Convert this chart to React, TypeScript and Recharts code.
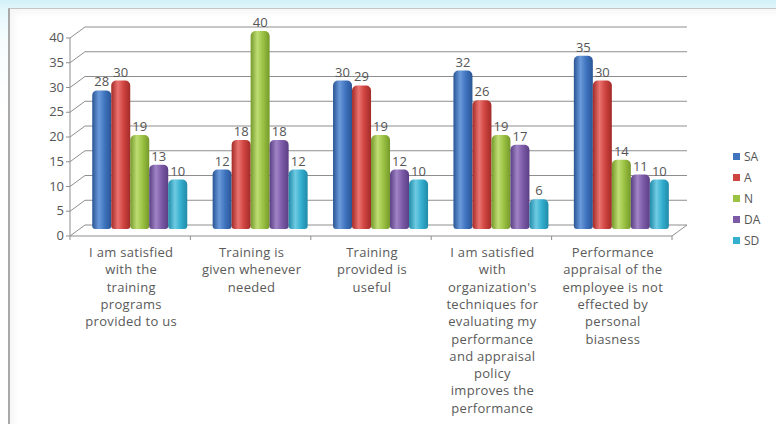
import React from "react";
import { BarChart, Bar, XAxis, YAxis, CartesianGrid, Legend, LabelList } from "recharts";

const categories = [
  "I am  satisfied\nwith  the\ntraining\nprograms\nprovided to us",
  "Training is\ngiven whenever\nneeded",
  "Training\nprovided is\nuseful",
  "I am satisfied\nwith\norganization's\ntechniques for\nevaluating my\nperformance\nand  appraisal\npolicy\nimproves the\nperformance",
  "Performance\nappraisal of the\nemployee is not\neffected by\npersonal\nbiasness",
];
const SA = [28, 12, 30, 32, 35];
const A = [30, 18, 29, 26, 30];
const N = [19, 40, 19, 19, 14];
const DA = [13, 18, 12, 17, 11];
const SD = [10, 12, 10, 6, 10];
const yTicks = [0, 5, 10, 15, 20, 25, 30, 35, 40];

const series = [
  { key: "SA", values: SA, color: "#3f74bf", dark: "#2a5595", light: "#6b9ada" },
  { key: "A", values: A, color: "#cf4440", dark: "#a22b28", light: "#ea736f" },
  { key: "N", values: N, color: "#9bc243", dark: "#75992a", light: "#bedd74" },
  { key: "DA", values: DA, color: "#7c5aa7", dark: "#5a3e84", light: "#a084c6" },
  { key: "SD", values: SD, color: "#35afcf", dark: "#208aa8", light: "#6fcbe3" },
];

const data = categories.map((c, i) => {
  const row: any = { name: c };
  series.forEach((s) => (row[s.key] = s.values[i]));
  return row;
});

// layout
const W = 776, H = 424;
const M = { top: 31, right: 95, bottom: 45, left: 78 };
const X_AXIS_H = 150;
const PL = M.left + 1;
const PR = W - M.right;
const PT = M.top;
const PB = H - M.bottom - X_AXIS_H;
const BW = (PR - PL) / categories.length;
const STEP = ((PB - PT) * 5) / 40;
// 3d offsets: front floor / back wall
const FX = -9, FY = 7, BX = 6, BY = -4;
const AXIS = "#8e8e8e";
const TXT = "#555";
const FONT = "'Open Sans', sans-serif";

const gridLine = (p: any) => (
  <g key={p.key}>
    <line x1={PL + FX} y1={p.y1 + FY} x2={PL + BX} y2={p.y1 + BY} stroke={AXIS} />
    <line x1={PL + BX} y1={p.y1 + BY} x2={PR + BX} y2={p.y2 + BY} stroke={AXIS} />
  </g>
);

const YTick = ({ y, payload }: any) => (
  <g>
    <line x1={PL + FX - 4} y1={y + FY} x2={PL + FX} y2={y + FY} stroke={AXIS} />
    {payload.value < 40 && <line x1={PL + FX} y1={y + FY} x2={PL + FX} y2={y + FY - STEP} stroke={AXIS} />}
    <text x={PL + FX - 6} y={y + FY - 1} textAnchor="end" dominantBaseline="central" fontSize={13} fill={TXT} fontFamily={FONT}>
      {payload.value}
    </text>
  </g>
);

const XTick = ({ x, payload, index }: any) => {
  const lines = String(payload.value).split("\n");
  const fy = PB + FY;
  const left = x - BW / 2 + FX;
  const right = x + BW / 2 + FX;
  const last = index === categories.length - 1;
  return (
    <g>
      <line x1={left} y1={fy} x2={right} y2={fy} stroke={AXIS} />
      <line x1={left} y1={fy} x2={left} y2={fy + 4} stroke={AXIS} />
      {last && (
        <>
          <line x1={right} y1={fy} x2={right} y2={fy + 4} stroke={AXIS} />
          <line x1={right} y1={fy} x2={right + BX - FX} y2={PB + BY} stroke={AXIS} />
        </>
      )}
      <text textAnchor="middle" fontSize={13} fill="#5a5a5a" fontFamily={FONT} letterSpacing={0.3}>
        {lines.map((l, i) => (
          <tspan key={i} x={x + FX + 1} y={PB + 28 + i * 17.3}>
            {l}
          </tspan>
        ))}
      </text>
    </g>
  );
};

const renderLegend = () => (
  <div style={{ fontFamily: FONT, fontSize: 12, color: TXT }}>
    {series.map((s) => (
      <div key={s.key} style={{ display: "flex", alignItems: "center", height: 21 }}>
        <span style={{ width: 7, height: 7, background: s.color, marginRight: 4, display: "inline-block" }} />
        {s.key}
      </div>
    ))}
  </div>
);

export default function App() {
  return (
    <div
      style={{
        position: "absolute",
        left: 0,
        top: 0,
        width: W,
        height: H,
        overflow: "hidden",
        background: "linear-gradient(180deg, #d2f0f8 0px, #e4f7fb 10px, #f6fcfe 40px, #ffffff 120px)",
      }}
    >
      <div
        style={{
          position: "absolute",
          left: 8,
          top: 8,
          width: W,
          height: H,
          background: "#fff",
          borderLeft: "2px solid #a9a9a9",
          borderTop: "1px solid #c4c4c4",
          boxShadow: "inset 4px 4px 6px rgba(0,0,0,0.04)",
        }}
      />
      <div style={{ position: "absolute", left: 0, top: 0 }}>
        <BarChart width={W} height={H} data={data} margin={M} barGap={0} barCategoryGap="11%">
          <defs>
            {series.map((s) => (
              <linearGradient key={s.key} id={"g" + s.key} x1="0" y1="0" x2="1" y2="0">
                <stop offset="0%" stopColor={s.dark} />
                <stop offset="35%" stopColor={s.light} />
                <stop offset="65%" stopColor={s.color} />
                <stop offset="100%" stopColor={s.dark} />
              </linearGradient>
            ))}
          </defs>
          <CartesianGrid vertical={false} horizontal={gridLine} />
          <XAxis dataKey="name" height={X_AXIS_H} axisLine={false} tickLine={false} tick={<XTick />} interval={0} />
          <YAxis width={1} domain={[0, 40]} ticks={yTicks} axisLine={false} tickLine={false} tick={<YTick />} />
          <Legend
            layout="vertical"
            align="center"
            verticalAlign="middle"
            content={renderLegend}
            wrapperStyle={{ position: "absolute", left: 733, top: 146, width: 40 }}
          />
          {series.map((s) => (
            <Bar key={s.key} dataKey={s.key} fill={`url(#g${s.key})`} radius={[5, 5, 3, 3]} isAnimationActive={false}>
              <LabelList dataKey={s.key} position="top" offset={4} fontSize={13} fill={TXT} fontFamily={FONT} />
            </Bar>
          ))}
        </BarChart>
      </div>
    </div>
  );
}
